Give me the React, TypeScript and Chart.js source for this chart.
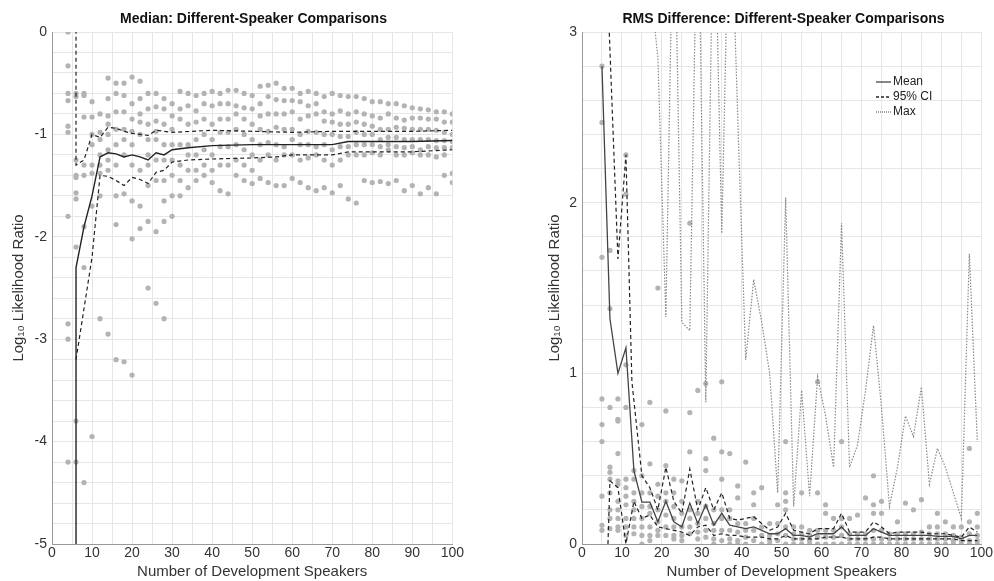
import React, { useEffect, useRef } from "react";
import { Chart, registerables } from "chart.js";
Chart.register(...registerables);

const leftX = [4,6,8,10,12,14,16,18,20,22,24,26,28,30,32,34,36,38,40,42,44,46,48,50,52,54,56,58,60,62,64,66,68,70,72,74,76,78,80,82,84,86,88,90,92,94,96,98,100];
const leftPts: number[][] = [
  [0,-0.33,-0.6,-0.67,-0.92,-0.98,-1.8,-2.85,-3.0,-4.2],
  [-0.6,-0.63,-1.25,-1.4,-1.42,-1.57,-1.63,-2.1,-3.8,-4.2],
  [-0.6,-0.62,-0.83,-1.3,-1.4,-1.9,-2.3,-4.4],
  [-0.68,-0.83,-1.0,-1.1,-1.3,-1.38,-1.7,-3.95],
  [-0.8,-0.98,-1.05,-1.2,-1.3,-1.38,-1.6,-2.8],
  [-0.45,-0.65,-0.82,-0.9,-1.0,-1.15,-1.25,-1.35,-2.95],
  [-0.5,-0.6,-0.78,-0.95,-1.1,-1.3,-1.6,-1.88,-3.2],
  [-0.5,-0.62,-0.78,-0.95,-1.05,-1.2,-1.58,-3.22],
  [-0.44,-0.7,-0.85,-0.97,-1.1,-1.3,-1.65,-2.02,-3.35],
  [-0.48,-0.65,-0.8,-0.88,-1.0,-1.35,-1.7,-1.92],
  [-0.6,-0.75,-0.9,-1.05,-1.2,-1.3,-1.5,-1.85,-2.5],
  [-0.6,-0.73,-0.87,-0.97,-1.05,-1.25,-1.45,-1.95,-2.65],
  [-0.65,-0.75,-0.9,-1.1,-1.25,-1.45,-1.65,-1.85,-2.8],
  [-0.7,-0.82,-0.95,-1.1,-1.25,-1.4,-1.6,-1.8],
  [-0.58,-0.75,-0.85,-1.1,-1.3,-1.45,-1.6],
  [-0.6,-0.72,-0.9,-1.1,-1.2,-1.35,-1.52],
  [-0.62,-0.77,-0.88,-1.05,-1.2,-1.35,-1.45],
  [-0.6,-0.7,-0.85,-1.0,-1.15,-1.3,-1.4],
  [-0.58,-0.72,-0.9,-1.05,-1.2,-1.35,-1.47],
  [-0.6,-0.7,-0.85,-0.98,-1.12,-1.3,-1.55],
  [-0.57,-0.7,-0.85,-0.98,-1.12,-1.3,-1.58],
  [-0.57,-0.72,-0.8,-0.95,-1.1,-1.25,-1.4],
  [-0.6,-0.74,-0.85,-1.0,-1.15,-1.3,-1.45],
  [-0.62,-0.75,-0.9,-1.05,-1.2,-1.35,-1.48],
  [-0.53,-0.7,-0.82,-0.95,-1.1,-1.25,-1.43],
  [-0.52,-0.63,-0.8,-0.97,-1.08,-1.2,-1.47],
  [-0.5,-0.66,-0.8,-0.93,-1.1,-1.25,-1.5],
  [-0.55,-0.67,-0.8,-0.95,-1.12,-1.2,-1.5],
  [-0.55,-0.67,-0.78,-0.95,-1.05,-1.2,-1.43],
  [-0.6,-0.68,-0.85,-1.0,-1.1,-1.25,-1.47],
  [-0.58,-0.72,-0.82,-0.97,-1.1,-1.23,-1.52],
  [-0.6,-0.7,-0.8,-0.98,-1.12,-1.2,-1.55],
  [-0.63,-0.78,-0.87,-1.0,-1.1,-1.25,-1.52],
  [-0.6,-0.8,-0.88,-1.0,-1.15,-1.3,-1.57],
  [-0.62,-0.77,-0.9,-1.02,-1.12,-1.25,-1.5],
  [-0.63,-0.8,-0.9,-1.02,-1.12,-1.2,-1.63],
  [-0.63,-0.78,-0.88,-0.98,-1.1,-1.2,-1.67],
  [-0.65,-0.8,-0.9,-1.0,-1.1,-1.2,-1.45],
  [-0.68,-0.82,-0.92,-1.0,-1.1,-1.18,-1.47],
  [-0.68,-0.84,-0.95,-1.05,-1.12,-1.2,-1.46],
  [-0.7,-0.8,-0.95,-1.03,-1.1,-1.15,-1.48],
  [-0.7,-0.84,-0.93,-1.03,-1.12,-1.2,-1.45],
  [-0.72,-0.86,-0.94,-1.05,-1.13,-1.2,-1.55],
  [-0.74,-0.84,-0.95,-1.05,-1.12,-1.18,-1.5],
  [-0.75,-0.84,-0.95,-1.05,-1.15,-1.2,-1.58],
  [-0.76,-0.85,-0.95,-1.05,-1.12,-1.2,-1.52],
  [-0.78,-0.85,-0.96,-1.06,-1.13,-1.22,-1.58],
  [-0.78,-0.88,-0.98,-1.06,-1.13,-1.2,-1.4],
  [-0.8,-0.88,-1.0,-1.07,-1.13,-1.38,-1.47],
];
const leftMeanX = [6,6,8,10,12,14,16,18,20,22,24,26,28,30,34,40,50,60,70,74,80,90,100];
const leftMeanY = [-5.5,-2.3,-1.9,-1.6,-1.22,-1.18,-1.19,-1.22,-1.2,-1.22,-1.25,-1.18,-1.2,-1.15,-1.13,-1.11,-1.1,-1.1,-1.1,-1.07,-1.07,-1.07,-1.06];
const leftUpX = [6,6,8,10,12,14,16,18,20,22,24,26,30,40,50,60,70,80,90,100];
const leftUpY = [0.5,-1.3,-1.25,-1.0,-1.03,-0.93,-0.94,-0.97,-0.99,-1.0,-1.01,-0.96,-0.98,-0.96,-0.97,-0.98,-0.97,-0.97,-0.97,-0.96];
const leftLoX = [6,8,10,12,14,16,18,20,22,24,26,28,30,34,40,50,56,60,70,74,80,90,100];
const leftLoY = [-3.2,-2.7,-2.2,-1.4,-1.41,-1.45,-1.5,-1.42,-1.44,-1.48,-1.37,-1.35,-1.27,-1.25,-1.24,-1.23,-1.22,-1.2,-1.2,-1.17,-1.17,-1.17,-1.15];

const rightX = [5,7,9,11,13,15,17,19,21,23,25,27,29,31,33,35,37,39,41,43,45,47,49,51,53,55,57,59,61,63,65,67,69,71,73,75,77,79,81,83,85,87,89,91,93,95,97,99];
const rightPts: number[][] = [
  [2.8,2.47,1.68,0.85,0.7,0.6,0.28,0.11,0.08],
  [1.72,1.38,0.8,0.45,0.42,0.38,0.3,0.2,0.15,0.09],
  [0.85,0.73,0.72,0.53,0.37,0.35,0.25,0.2,0.15,0.1,0.08],
  [2.05,2.28,1.05,0.8,0.38,0.33,0.28,0.23,0.15,0.1,0.05],
  [0.43,0.38,0.3,0.25,0.2,0.15,0.1,0.06],
  [0.7,0.4,0.3,0.22,0.15,0.1,0.05,0.0],
  [0.83,0.47,0.3,0.22,0.18,0.1,0.05,0.02],
  [1.5,0.35,0.28,0.2,0.13,0.08,0.05],
  [0.78,0.46,0.3,0.25,0.17,0.1,0.05],
  [0.38,0.3,0.22,0.15,0.1,0.05,0.03],
  [0.37,0.25,0.18,0.1,0.05,0.02],
  [1.88,0.77,0.54,0.2,0.15,0.1,0.06],
  [0.9,0.25,0.18,0.12,0.07,0.03],
  [0.94,0.5,0.43,0.22,0.15,0.08,0.04],
  [0.62,0.2,0.12,0.08,0.03,0.0],
  [0.95,0.54,0.38,0.2,0.15,0.08,0.02],
  [0.53,0.2,0.15,0.08,0.03,0.0],
  [0.34,0.27,0.12,0.07,0.02,0.0],
  [0.48,0.12,0.08,0.04,0.0],
  [0.3,0.23,0.15,0.08,0.02],
  [0.33,0.1,0.05,0.0],
  [0.12,0.05,0.02,0.0],
  [0.23,0.12,0.06,0.02],
  [0.6,0.3,0.25,0.2,0.1,0.05,0.0],
  [0.1,0.06,0.03,0.0],
  [0.3,0.1,0.06,0.03,0.0],
  [0.08,0.05,0.02,0.0],
  [0.95,0.3,0.08,0.04,0.0],
  [0.23,0.18,0.08,0.04,0.0],
  [0.15,0.08,0.04,0.0],
  [0.6,0.15,0.1,0.05,0.0],
  [0.15,0.06,0.03,0.0],
  [0.17,0.06,0.03,0.0],
  [0.27,0.06,0.03,0.0],
  [0.4,0.23,0.18,0.08,0.03,0.0],
  [0.25,0.18,0.08,0.03,0.0],
  [0.06,0.03,0.0],
  [0.13,0.06,0.03,0.0],
  [0.24,0.06,0.03,0.0],
  [0.2,0.06,0.03,0.0],
  [0.26,0.07,0.03,0.0],
  [0.1,0.06,0.03,0.0],
  [0.18,0.1,0.06,0.03,0.0],
  [0.13,0.06,0.03,0.0],
  [0.1,0.05,0.02,0.0],
  [0.1,0.04,0.02,0.0],
  [0.56,0.13,0.06,0.02,0.0],
  [0.18,0.1,0.05,0.02,0.0],
];
const rightMeanY = [2.8,1.32,1.0,1.15,0.43,0.245,0.245,0.13,0.25,0.13,0.1,0.24,0.12,0.23,0.11,0.18,0.11,0.1,0.09,0.1,0.08,0.06,0.06,0.09,0.05,0.05,0.04,0.06,0.06,0.06,0.1,0.05,0.05,0.05,0.09,0.07,0.05,0.05,0.05,0.05,0.05,0.05,0.045,0.045,0.045,0.03,0.05,0.05];
const rightUpX = [6.5,9,11,12.5,15,17,19,21,23,25,27,29,31,33,35,37,39,41,43,45,47,49,51,53,55,57,59,61,63,65,67,69,71,73,75,77,79,81,83,85,87,89,91,93,95,97,99];
const rightUpY = [3.2,1.67,2.28,0.95,0.4,0.33,0.2,0.45,0.25,0.18,0.44,0.2,0.33,0.2,0.3,0.15,0.14,0.15,0.16,0.12,0.08,0.1,0.18,0.08,0.07,0.06,0.09,0.09,0.09,0.18,0.07,0.07,0.07,0.13,0.1,0.06,0.07,0.07,0.07,0.07,0.06,0.06,0.06,0.05,0.04,0.1,0.07];
const rightLoX = [6.5,7,9,11,13,15,17,19,21,23,25,27,29,31,33,35,37,39,41,43,45,47,49,51,53,55,57,59,61,63,65,67,69,71,73,75,77,79,81,83,85,87,89,91,93,95,97,99];
const rightLoY = [0,0.37,0.33,0.0,0.25,0.15,0.17,0.1,0.09,0.08,0.07,0.05,0.1,0.11,0.05,0.06,0.05,0.05,0.04,0.04,0.04,0.03,0.03,0.05,0.03,0.03,0.03,0.03,0.04,0.04,0.04,0.03,0.03,0.03,0.04,0.04,0.03,0.03,0.03,0.03,0.03,0.03,0.03,0.03,0.03,0.02,0.02,0.02];
const rightMaxX = [15,17,19,21,23,25,27,29,31,33,35,37,39,41,43,45,47,49,51,53,55,57,59,61,63,65,67,69,71,73,75,77,79,81,83,85,87,89,91,93,95,97,99];
const rightMaxY = [4,3.3,2.85,1.33,4,1.3,1.25,4,0.83,4,1.82,4,2.5,1.08,1.55,1.3,1.0,0.3,2.03,0.22,0.9,0.28,0.98,0.75,0.45,1.88,0.45,0.58,0.9,1.28,0.8,0.22,0.45,0.75,0.63,0.92,0.35,0.56,0.45,0.3,0.15,1.7,0.6];

const FONT = "'Liberation Sans', Arial, sans-serif";
const GRID = "#e6e6e6";

function pts(xs: number[], lists: number[][]) {
  const out: { x: number; y: number }[] = [];
  xs.forEach((x, i) => lists[i].forEach((y) => out.push({ x, y })));
  return out;
}
const zip = (xs: number[], ys: number[]) => xs.map((x, i) => ({ x, y: ys[i] }));

function line(data: any, dash: number[], width = 1.2, color = "#222") {
  return { type: "line", data, borderColor: color, borderWidth: width, borderDash: dash, pointRadius: 0, showLine: true, fill: false, tension: 0, order: 0 };
}

function makeOpts(ymin: number, ymax: number, padLeft: number, yWidth: number) {
  return {
    animation: false,
    responsive: false,
    layout: { padding: { top: 32, right: 10, left: padLeft, bottom: 0 } },
    plugins: { legend: { display: false }, tooltip: { enabled: false } },
    scales: {
      x: {
        type: "linear", min: 0, max: 100,
        ticks: { stepSize: 5, autoSkip: false, maxRotation: 0, color: "#333", font: { family: FONT, size: 14 }, padding: 1,
          callback: (v: number) => (v % 10 === 0 ? String(v) : "") },
        grid: { color: GRID, drawTicks: false },
        border: { color: "#999" },
        title: { display: true, text: "Number of Development Speakers", color: "#333", font: { family: FONT, size: 15 }, padding: { top: 0, bottom: 0 } },
        afterFit: (s: any) => { s.height = 37; },
      },
      y: {
        min: ymin, max: ymax,
        ticks: { stepSize: 0.2, autoSkip: false, color: "#333", font: { family: FONT, size: 14 }, padding: 5,
          callback: (v: number) => (Math.abs(v - Math.round(v)) < 1e-6 ? String(Math.round(v)) : "") },
        grid: { color: GRID, drawTicks: false },
        border: { color: "#999" },
        title: { display: true, text: "Log₁₀ Likelihood Ratio", color: "#333", font: { family: FONT, size: 15 }, padding: 0 },
        afterFit: (s: any) => { s.width = yWidth; },
      },
    },
  } as any;
}

function useChart(ref: any, config: any) {
  useEffect(() => {
    const c = new Chart(ref.current, config);
    return () => c.destroy();
  }, []);
}

const scatterStyle = { type: "scatter", pointRadius: 2.6, pointBackgroundColor: "#b3b3b3", pointBorderWidth: 0, showLine: false, order: 5 };

export default function App() {
  const l = useRef<HTMLCanvasElement>(null);
  const r = useRef<HTMLCanvasElement>(null);
  useChart(l, {
    type: "scatter",
    data: { datasets: [
      { ...scatterStyle, data: pts(leftX, leftPts) },
      line(zip(leftMeanX, leftMeanY), [], 1.4),
      line(zip(leftUpX, leftUpY), [4, 3]),
      line(zip(leftLoX, leftLoY), [4, 3]),
    ] },
    options: makeOpts(-5, 0, 10, 42),
  });
  useChart(r, {
    type: "scatter",
    data: { datasets: [
      { ...scatterStyle, data: pts(rightX, rightPts) },
      line(zip(rightMaxX, rightMaxY), [1.5, 1.5], 1.2, "#888"),
      line(zip(rightX, rightMeanY), [], 1.3, "#444"),
      line(zip(rightUpX, rightUpY), [4, 3]),
      line(zip(rightLoX, rightLoY), [4, 3]),
    ] },
    options: makeOpts(0, 3, 46, 36),
  });
  const title = { position: "absolute" as const, top: 10, fontFamily: FONT, fontWeight: "bold" as const, fontSize: 14, color: "#111", textAlign: "center" as const };
  return (
    <div style={{ position: "absolute", left: 0, top: 0, width: 994, height: 581, background: "#fff", overflow: "hidden" }}>
      <canvas ref={l} width={465} height={581} style={{ position: "absolute", left: 0, top: 0 }} />
      <canvas ref={r} width={494} height={581} style={{ position: "absolute", left: 500, top: 0 }} />
      <div style={{ ...title, left: 52, width: 403 }}>Median: Different-Speaker Comparisons</div>
      <div style={{ ...title, left: 582, width: 403 }}>RMS Difference: Different-Speaker Comparisons</div>
      <div style={{ position: "absolute", left: 876, top: 74, fontFamily: FONT, fontSize: 12, color: "#222", lineHeight: "15px" }}>
        {[["Mean", "none", "#444"], ["95% CI", "3 2", "#222"], ["Max", "1 1", "#888"]].map(([t, d, c]) => (
          <div key={t} style={{ display: "flex", alignItems: "center" }}>
            <svg width={16} height={10}><line x1={0} y1={5} x2={15} y2={5} stroke={c} strokeWidth={1.3} strokeDasharray={d} /></svg>
            <span style={{ marginLeft: 1 }}>{t}</span>
          </div>
        ))}
      </div>
    </div>
  );
}
